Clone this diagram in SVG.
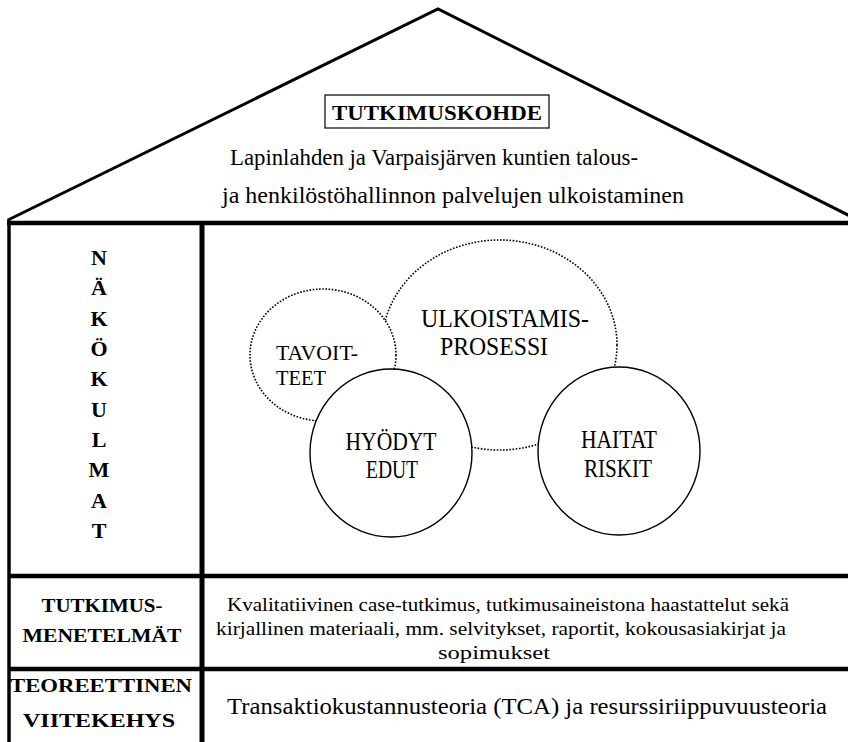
<svg xmlns="http://www.w3.org/2000/svg" width="848" height="742" viewBox="0 0 848 742">
<defs>
<style>
  text { font-family: "Liberation Serif", serif; fill: #000; }
  .b { font-weight: bold; }
  .mid { text-anchor: middle; }
  .frame { stroke: #000; fill: none; }
  .dot { fill: #fff; stroke: #000; stroke-width: 1.6; stroke-dasharray: 1.6 1.6; }
  .solid { fill: #fff; stroke: #000; stroke-width: 1.4; }
</style>
</defs>
<rect width="848" height="742" fill="#fff"/>
<g id="roof">
  <polyline class="frame" points="8,220 438,9 866,224" stroke-width="3"/>
</g>
<g id="frame">
  <line class="frame" x1="7" y1="223" x2="848" y2="223" stroke-width="4.5"/>
  <line class="frame" x1="9" y1="219" x2="9" y2="742" stroke-width="3.5"/>
  <line class="frame" x1="202" y1="223" x2="202" y2="742" stroke-width="5"/>
  <line class="frame" x1="9" y1="576" x2="848" y2="576" stroke-width="4.5"/>
  <line class="frame" x1="9" y1="669" x2="848" y2="669" stroke-width="4.5"/>
</g>
<g id="tutkimuskohde">
  <rect x="325" y="95" width="224" height="33" fill="#fff" stroke="#000" stroke-width="1.2"/>
  <text class="b mid" x="437" y="120" font-size="22" textLength="210" lengthAdjust="spacingAndGlyphs">TUTKIMUSKOHDE</text>
  <text x="230" y="165" font-size="23" textLength="408" lengthAdjust="spacingAndGlyphs">Lapinlahden ja Varpaisjärven kuntien talous-</text>
  <text x="222" y="203" font-size="23" textLength="462" lengthAdjust="spacingAndGlyphs">ja henkilöstöhallinnon palvelujen ulkoistaminen</text>
</g>
<g id="nakokulmat" font-size="22">
  <text class="b mid" x="99" y="265">N</text>
  <text class="b mid" x="99" y="295">Ä</text>
  <text class="b mid" x="99" y="326">K</text>
  <text class="b mid" x="99" y="356">Ö</text>
  <text class="b mid" x="99" y="386">K</text>
  <text class="b mid" x="99" y="417">U</text>
  <text class="b mid" x="99" y="447">L</text>
  <text class="b mid" x="99" y="477">M</text>
  <text class="b mid" x="99" y="508">A</text>
  <text class="b mid" x="99" y="538">T</text>
</g>
<g id="ulkoistamisprosessi">
  <ellipse class="dot" cx="499.5" cy="345" rx="117.5" ry="105"/>
  <text x="421" y="327" font-size="25" textLength="168" lengthAdjust="spacingAndGlyphs">ULKOISTAMIS-</text>
  <text x="440" y="355" font-size="25" textLength="108" lengthAdjust="spacingAndGlyphs">PROSESSI</text>
</g>
<g id="tavoitteet">
  <ellipse class="dot" cx="323" cy="355" rx="73" ry="66"/>
  <text x="276" y="360" font-size="21" textLength="82" lengthAdjust="spacingAndGlyphs">TAVOIT-</text>
  <text x="276" y="385" font-size="21" textLength="50" lengthAdjust="spacingAndGlyphs">TEET</text>
</g>
<g id="hyodyt">
  <ellipse class="solid" cx="391" cy="453" rx="81" ry="84"/>
  <text class="mid" x="391" y="450" font-size="25" textLength="91" lengthAdjust="spacingAndGlyphs">HYÖDYT</text>
  <text class="mid" x="392" y="478" font-size="25" textLength="52" lengthAdjust="spacingAndGlyphs">EDUT</text>
</g>
<g id="haitat">
  <ellipse class="solid" cx="619" cy="451" rx="81" ry="84"/>
  <text class="mid" x="619" y="448" font-size="25" textLength="76" lengthAdjust="spacingAndGlyphs">HAITAT</text>
  <text class="mid" x="618" y="477" font-size="25" textLength="68" lengthAdjust="spacingAndGlyphs">RISKIT</text>
</g>
<g id="connectors"></g>
<g id="menetelmat">
  <text class="b mid" x="102" y="612" font-size="18" textLength="121" lengthAdjust="spacingAndGlyphs">TUTKIMUS-</text>
  <text class="b mid" x="102" y="642" font-size="18" textLength="159" lengthAdjust="spacingAndGlyphs">MENETELMÄT</text>
  <text x="227" y="611" font-size="18" textLength="562" lengthAdjust="spacingAndGlyphs">Kvalitatiivinen case-tutkimus, tutkimusaineistona haastattelut sekä</text>
  <text x="216" y="635" font-size="18" textLength="570" lengthAdjust="spacingAndGlyphs">kirjallinen materiaali, mm. selvitykset, raportit, kokousasiakirjat ja</text>
  <text class="mid" x="494" y="659" font-size="18" textLength="112" lengthAdjust="spacingAndGlyphs">sopimukset</text>
</g>
<g id="viitekehys">
  <text class="b mid" x="101" y="692" font-size="18" textLength="182" lengthAdjust="spacingAndGlyphs">TEOREETTINEN</text>
  <text class="b mid" x="99" y="727" font-size="18" textLength="152" lengthAdjust="spacingAndGlyphs">VIITEKEHYS</text>
  <text x="227" y="714" font-size="23" textLength="600" lengthAdjust="spacingAndGlyphs">Transaktiokustannusteoria (TCA) ja resurssiriippuvuusteoria</text>
</g>
</svg>
